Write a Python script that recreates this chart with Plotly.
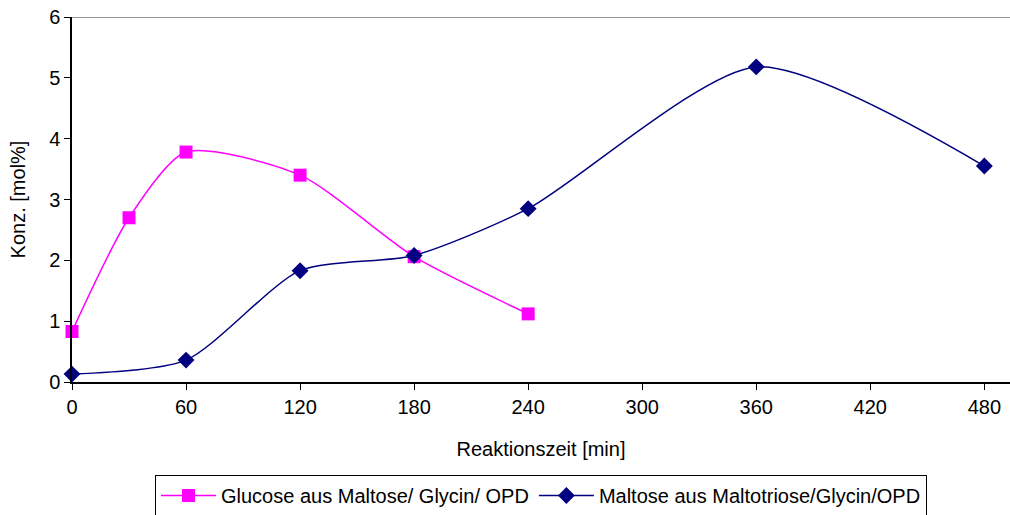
import plotly.graph_objects as go

glucose_x = [0, 30, 60, 120, 180, 240]
glucose_y = [0.83, 2.70, 3.78, 3.40, 2.06, 1.12]
maltose_x = [0, 60, 120, 180, 240, 360, 480]
maltose_y = [0.13, 0.36, 1.83, 2.08, 2.85, 5.18, 3.55]
x_ticks = [0, 60, 120, 180, 240, 300, 360, 420, 480]
y_ticks = [0, 1, 2, 3, 4, 5, 6]

font = "Liberation Sans, Arial, sans-serif"
fs = 20

fig = go.Figure()
fig.add_trace(go.Scatter(
    x=glucose_x, y=glucose_y, mode="lines+markers",
    name="Glucose aus Maltose/ Glycin/ OPD",
    line=dict(color="#FF00FF", width=1.5, shape="spline", smoothing=0.7),
    marker=dict(symbol="square", size=13, color="#FF00FF"),
    cliponaxis=False,
))
fig.add_trace(go.Scatter(
    x=maltose_x, y=maltose_y, mode="lines+markers",
    name="Maltose aus Maltotriose/Glycin/OPD",
    line=dict(color="#000080", width=1.5, shape="spline", smoothing=0.7),
    marker=dict(symbol="diamond", size=13, color="#000080"),
    cliponaxis=False,
))

fig.add_shape(type="line", xref="paper", yref="y", x0=0, x1=1, y0=6, y1=6,
              line=dict(color="#707070", width=1.5))

fig.update_layout(
    width=1010, height=515,
    margin=dict(l=72, r=0, t=17, b=133, autoexpand=False),
    paper_bgcolor="white", plot_bgcolor="white",
    font=dict(family=font, size=fs, color="black"),
    showlegend=True,
    legend=dict(
        orientation="h", x=0.5, xanchor="center", y=-0.311, yanchor="middle",
        bordercolor="black", borderwidth=1, font=dict(size=fs, family=font),
        itemwidth=55,
    ),
    xaxis=dict(
        range=[0, 493.5], tickvals=x_ticks, ticks="outside", ticklen=6,
        tickcolor="black", showline=True, linecolor="black", linewidth=1.5,
        showgrid=False, zeroline=False, automargin=False,
        ticklabeloverflow="allow",
        title=dict(text="Reaktionszeit [min]", font=dict(size=fs), standoff=25),
        tickfont=dict(size=fs),
    ),
    yaxis=dict(
        range=[0, 6], tickvals=y_ticks, ticks="outside", ticklen=6,
        tickcolor="black", showline=True, linecolor="black", linewidth=1.5,
        showgrid=False, zeroline=False, automargin=False,
        ticklabeloverflow="allow",
        title=dict(text="Konz. [mol%]", font=dict(size=fs), standoff=18),
        tickfont=dict(size=fs),
    ),
)

fig.write_html(
    "out.html",
    config={"displayModeBar": False},
    post_script="document.body.style.margin='0';document.body.style.overflow='hidden';",
)
